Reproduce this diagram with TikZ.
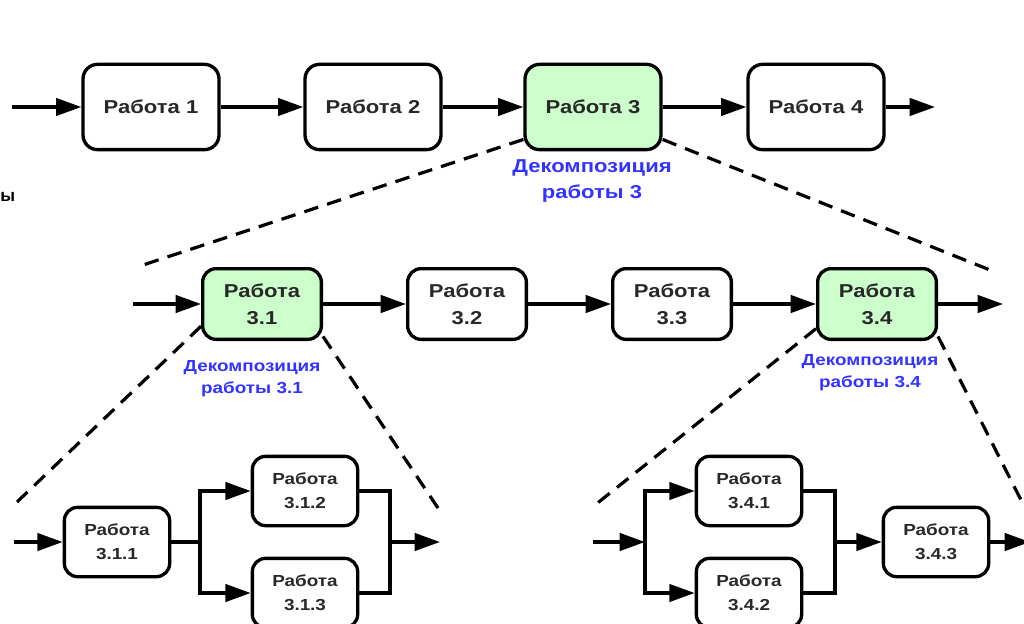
\documentclass[tikz,border=0pt]{standalone}
\usepackage{fontspec}
\setmainfont{Liberation Sans}
\newfontfamily\wide[FakeStretch=1.18]{Liberation Sans}
\usetikzlibrary{arrows.meta}
\definecolor{lgreen}{RGB}{204,255,204}
\definecolor{dblue}{RGB}{51,51,255}
\definecolor{dtext}{RGB}{40,40,40}

\begin{document}
\begin{tikzpicture}[x=0.75pt,y=-0.75pt,
    thk/.style={line width=2.5pt},
    arr/.style={thk, -{Triangle[length=19pt,width=13pt]}},
    dsh/.style={line width=2.4pt, dash pattern=on 11pt off 7pt},
    box/.style={draw, thk, align=center, inner sep=0pt, text=dtext, font=\wide\bfseries\fontsize{14}{20}\selectfont},
    big/.style={box, rounded corners=11pt, minimum width=102pt, minimum height=64pt},
    mid/.style={box, rounded corners=10pt, minimum width=89pt, minimum height=53pt},
    small/.style={box, rounded corners=10pt, minimum width=79pt, minimum height=52pt, font=\wide\bfseries\fontsize{12}{18}\selectfont},
    lbl/.style={align=center, text=dblue, font=\wide\bfseries\fontsize{14}{20}\selectfont},
    slbl/.style={align=center, text=dblue, font=\wide\bfseries\fontsize{12}{16.5}\selectfont}]
    \useasboundingbox[fill=white] (0,0) rectangle (1024,624);

    \node[anchor=west, inner sep=0pt, font=\bfseries\fontsize{13}{16}\selectfont] (Y) at (0,197) {ы};

    \node[big] (R1) at (151,107) {Работа 1};
    \node[big] (R2) at (373,107) {Работа 2};
    \node[big, fill=lgreen] (R3) at (593,107) {Работа 3};
    \node[big] (R4) at (816,107) {Работа 4};
    \coordinate (A0) at (12,107);
    \coordinate (A5) at (935,107);
    \draw[arr] (A0) -- (R1);
    \draw[arr] (R1) -- (R2);
    \draw[arr] (R2) -- (R3);
    \draw[arr] (R3) -- (R4);
    \draw[arr] (R4) -- (A5);
    \node[lbl] (D3) at (592,181) {Декомпозиция\\работы 3};
    \coordinate (L3) at (140,266);
    \coordinate (K3) at (990,270);
    \draw[dsh] (R3.205) -- (L3);
    \draw[dsh] (R3.-25) -- (K3);

    \node[mid, fill=lgreen] (R31) at (262,304) {Работа\\3.1};
    \node[mid] (R32) at (467,304) {Работа\\3.2};
    \node[mid] (R33) at (672,304) {Работа\\3.3};
    \node[mid, fill=lgreen] (R34) at (877,304) {Работа\\3.4};
    \coordinate (M0) at (133,304);
    \coordinate (M5) at (1003,304);
    \draw[arr] (M0) -- (R31);
    \draw[arr] (R31) -- (R32);
    \draw[arr] (R32) -- (R33);
    \draw[arr] (R33) -- (R34);
    \draw[arr] (R34) -- (M5);
    \node[slbl] (D31) at (252,379) {Декомпозиция\\работы 3.1};
    \node[slbl] (D34) at (870,373) {Декомпозиция\\работы 3.4};
    \coordinate (L31) at (17,502);
    \coordinate (K31) at (438,508);
    \coordinate (L34) at (595,505);
    \coordinate (K34) at (1022,502);
    \draw[dsh] (R31.-160) -- (L31);
    \draw[dsh] (R31.-28) -- (K31);
    \draw[dsh] (R34.-158) -- (L34);
    \draw[dsh] (R34.-28) -- (K34);

    \node[small] (R311) at (117,542) {Работа\\3.1.1};
    \node[small] (R312) at (305,491) {Работа\\3.1.2};
    \node[small] (R313) at (305,593) {Работа\\3.1.3};
    \coordinate (B0) at (14,542);
    \coordinate (S1) at (200,542);
    \coordinate (J1) at (390,542);
    \coordinate (B1) at (440,542);
    \draw[arr] (B0) -- (R311);
    \draw[thk] (R311) -- (S1);
    \draw[arr] (S1) |- (R312);
    \draw[arr] (S1) |- (R313);
    \draw[thk] (R312) -| (J1);
    \draw[thk] (R313) -| (J1);
    \draw[arr] (J1) -- (B1);

    \node[small] (R341) at (749,491) {Работа\\3.4.1};
    \node[small] (R342) at (749,593) {Работа\\3.4.2};
    \node[small] (R343) at (936,542) {Работа\\3.4.3};
    \coordinate (C0) at (593,542);
    \coordinate (S2) at (645,542);
    \coordinate (J2) at (835,542);
    \coordinate (C1) at (1030,542);
    \draw[arr] (C0) -- (S2);
    \draw[arr] (S2) |- (R341);
    \draw[arr] (S2) |- (R342);
    \draw[thk] (R341) -| (J2);
    \draw[thk] (R342) -| (J2);
    \draw[arr] (J2) -- (R343);
    \draw[arr] (R343) -- (C1);
\end{tikzpicture}
\end{document}
